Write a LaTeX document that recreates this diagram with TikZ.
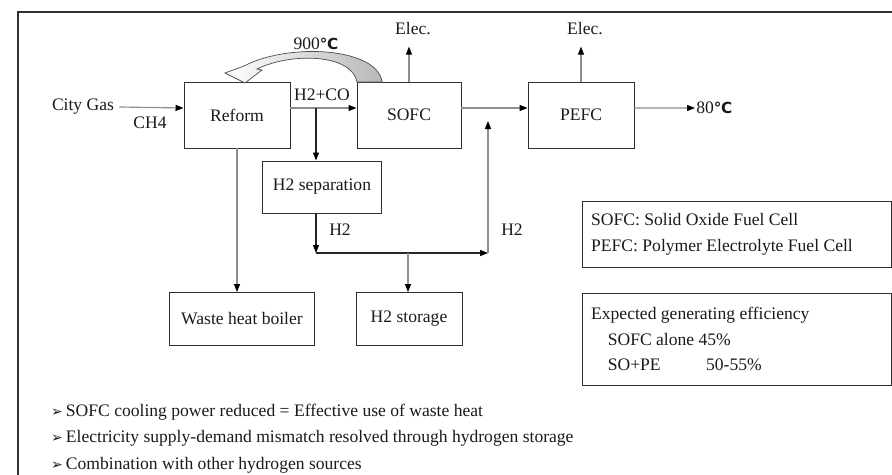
\documentclass[tikz,border=0pt]{standalone}
\usepackage{fontspec}
\setmainfont{Liberation Serif}
\newfontfamily\symFont{DejaVu Sans}
\usetikzlibrary{arrows.meta,positioning}
\definecolor{lineGray}{HTML}{8E8E8E}
\definecolor{boxStroke}{HTML}{303030}
\definecolor{heatFill}{HTML}{B8B8B8}
\definecolor{textMain}{HTML}{1A1A1A}

\begin{document}
\begin{tikzpicture}[
    x=0.03cm, y=-0.03cm,
    font=\fontsize{15}{18}\selectfont,
    text=textMain,
    >={Triangle[length=0.24cm,width=0.18cm,black]},
    procNode/.style={
        rectangle, draw=boxStroke, line width=0.8pt,
        minimum width=3.18cm, minimum height=1.98cm,
        align=center, inner sep=0pt
    },
    legendBox/.style={
        rectangle, draw=boxStroke, line width=0.8pt,
        text width=8.75cm, inner xsep=0.25cm,
        align=flush left, font=\fontsize{15}{22}\selectfont
    },
    label/.style={inner sep=1pt},
    bullet/.style={anchor=west, inner sep=0pt},
    flow/.style={->, line width=1pt, draw=lineGray},
    hflow/.style={->, line width=1pt, draw=black!85},
    heatArrow/.style={draw=black!70, line width=0.6pt, left color=white, right color=heatFill}
]

% Layout plan: coordinates are read off the reference in pixels (y grows downward)
\useasboundingbox (0,0) rectangle (892,475);
\draw[boxStroke, line width=0.9pt] (18,475) -- (18,12) -- (892,12);

% main chain
\node[label] (CityGas) at (83,107) {City Gas};
\node[label] (Ch4) at (150,123) {CH4};
\node[procNode] (Reform) at (237,115) {Reform};
\node[procNode, minimum width=3.12cm] (Sofc) at (409,115) {SOFC};
\node[procNode] (Pefc) at (581,115) {PEFC};
\node[label, anchor=west] (Outlet) at (695,108) {80{\symFont\bfseries\fontsize{13}{16}\selectfont ℃}};
\node[label] (ElecSofc) at (413,29) {Elec.};
\node[label] (ElecPefc) at (585,29) {Elec.};
\node[label] (Syngas) at (322,95) {H2+CO};
\node[label] (HeatLabel) at (316,44) {900{\symFont\bfseries\fontsize{13}{16}\selectfont ℃}};

% hydrogen branch
\node[procNode, minimum width=3.57cm, minimum height=1.56cm] (Separation) at (322,187) {H2 separation};
\node[procNode, minimum width=4.35cm, minimum height=1.59cm] (Boiler) at (242,319) {Waste heat boiler};
\node[procNode, minimum height=1.59cm] (Storage) at (409,319) {H2 storage};
\node[label] (H2Left) at (340,230) {H2};
\node[label] (H2Right) at (512,230) {H2};

\coordinate (Split) at (316,108);
\coordinate (Join) at (316,253);
\coordinate (Tee) at (408,253);
\coordinate (Corner) at (488,253);
\coordinate (Rise) at (488,121);

% legends
\node[legendBox, minimum height=1.98cm] (Abbrev) at (737,234)
  {SOFC: Solid Oxide Fuel Cell\\PEFC: Polymer Electrolyte Fuel Cell};
\node[legendBox, minimum height=2.76cm] (Efficiency) at (737,339)
  {Expected generating efficiency\\
   \hspace*{0.5cm}SOFC alone 45\%\\
   \hspace*{0.5cm}\makebox[2.95cm][l]{SO+PE}50-55\%};

\node[bullet] (NoteA) at (51,412) {{\symFont\fontsize{12}{14}\selectfont ➢}\,SOFC cooling power reduced = Effective use of waste heat};
\node[bullet] (NoteB) at (51,438) {{\symFont\fontsize{12}{14}\selectfont ➢}\,Electricity supply-demand mismatch resolved through hydrogen storage};
\node[bullet] (NoteC) at (51,465) {{\symFont\fontsize{12}{14}\selectfont ➢}\,Combination with other hydrogen sources};

% heat return from SOFC to reformer
\path[heatArrow] (382,82) .. controls (378,48) and (290,42) .. (244,66)
  -- (225,73) -- (245,83) -- (262,70) -- (257,69)
  .. controls (292,52) and (352,54) .. (357,82) -- cycle;

% connectors
\draw[flow] (CityGas.east) ++(0.12cm,0) -- ([yshift=0.21cm]Reform.west);
\draw[flow] ([yshift=0.21cm]Reform.east) -- ([yshift=0.21cm]Sofc.west);
\draw[flow] ([yshift=0.21cm]Sofc.east) -- ([yshift=0.21cm]Pefc.west);
\draw[flow] ([yshift=0.21cm]Pefc.east) -- (Outlet.west);
\draw[flow, shorten >=0.3cm] (Sofc.north) -- (Sofc.north |- ElecSofc.south);
\draw[flow, shorten >=0.3cm] (Pefc.north) -- (Pefc.north |- ElecPefc.south);
\draw[flow] (Reform.south) -- (Reform.south |- Boiler.north);
\draw[hflow] (Split) -- (Split |- Separation.north);
\draw[hflow] (Separation.south -| Join) -- (Join);
\draw[hflow] (Join) -- (Corner);
\draw[flow] (Tee) -- (Tee |- Storage.north);
\draw[flow] (Corner) -- (Rise);

\end{tikzpicture}
\end{document}
